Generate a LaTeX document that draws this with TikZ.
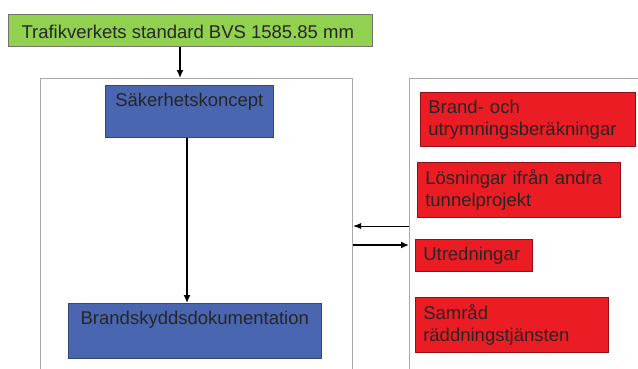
\documentclass[tikz,border=0pt]{standalone}
\usepackage{fontspec}
\setmainfont{Liberation Sans}
\usetikzlibrary{arrows.meta,calc}
\definecolor{grn}{HTML}{92D050}
\definecolor{blu}{HTML}{4A66B0}
\definecolor{rd}{HTML}{EC1C24}
\definecolor{frm}{HTML}{A8A8A8}
\tikzset{
  x=1pt,y=-1pt,
  txt/.style={font=\fontsize{18.5}{22}\selectfont, text=black!85},
  greenbox/.style={draw=black!55, line width=0.8pt, fill=grn, anchor=north west, inner sep=0pt, txt},
  bluebox/.style={draw=blu!70!black, line width=0.6pt, fill=blu, anchor=north west, inner sep=0pt},
  redbox/.style={draw=rd!60!black, line width=0.6pt, fill=rd, anchor=north west, inner sep=0pt, txt, align=left, text width=#1},
  framebox/.style={draw=frm, line width=1pt, anchor=north west, inner sep=0pt},
  arr/.style={-{Latex[length=8pt,width=7pt]}, line width=1.4pt, black},
}
\begin{document}
\begin{tikzpicture}
\clip (0,0) rectangle (638,368);
\fill[white] (0,0) rectangle (638,368);
% frames
\node[framebox, minimum width=312pt, minimum height=320pt] (lframe) at (40,78) {};
\node[framebox, minimum width=260pt, minimum height=320pt] (rframe) at (409,78) {};
% green
\node[greenbox, minimum width=364pt, minimum height=32pt] (green) at (8,14) {};
\node[txt, anchor=west] (greent) at ($(green.west)+(10,1)$) {Trafikverkets standard BVS 1585.85 mm};
% blue
\node[bluebox, minimum width=168pt, minimum height=52pt] (sak) at (105,85) {};
\node[txt, anchor=north] (sakt) at ($(sak.north)+(0,5)$) {Säkerhetskoncept};
\node[bluebox, minimum width=253pt, minimum height=55pt] (brand) at (68,303) {};
\node[txt, anchor=north] (brandt) at ($(brand.north)+(0,5)$) {Brandskyddsdokumentation};
% red
\node[redbox=215pt, minimum width=215pt, minimum height=54pt] (r1) at (420,92) {\hspace*{8pt}Brand- och\\\hspace*{8pt}utrymningsberäkningar};
\node[redbox=203pt, minimum width=203pt, minimum height=55pt] (r2) at (417,162) {\hspace*{8pt}Lösningar ifrån andra\\\hspace*{8pt}tunnelprojekt};
\node[redbox=117pt, minimum width=117pt, minimum height=32pt] (r3) at (415,239) {\hspace*{8pt}Utredningar};
\node[redbox=193pt, minimum width=193pt, minimum height=55pt] (r4) at (415,297) {\hspace*{8pt}Samråd\\\hspace*{8pt}räddningstjänsten};
% arrows
\draw[arr] (green.south -| 180,0) -- (lframe.north -| 180,0);
\draw[arr] (sak.south -| 187,0) -- (brand.north -| 187,0);
\draw[-{Latex[length=8pt,width=6pt]}, line width=1pt, black] (rframe.west |- 0,226) -- (lframe.east |- 0,226);
\draw[-{Latex[length=8pt,width=7pt]}, line width=2pt, black] (lframe.east |- 0,245) -- (rframe.west |- 0,245);
\end{tikzpicture}
\end{document}
